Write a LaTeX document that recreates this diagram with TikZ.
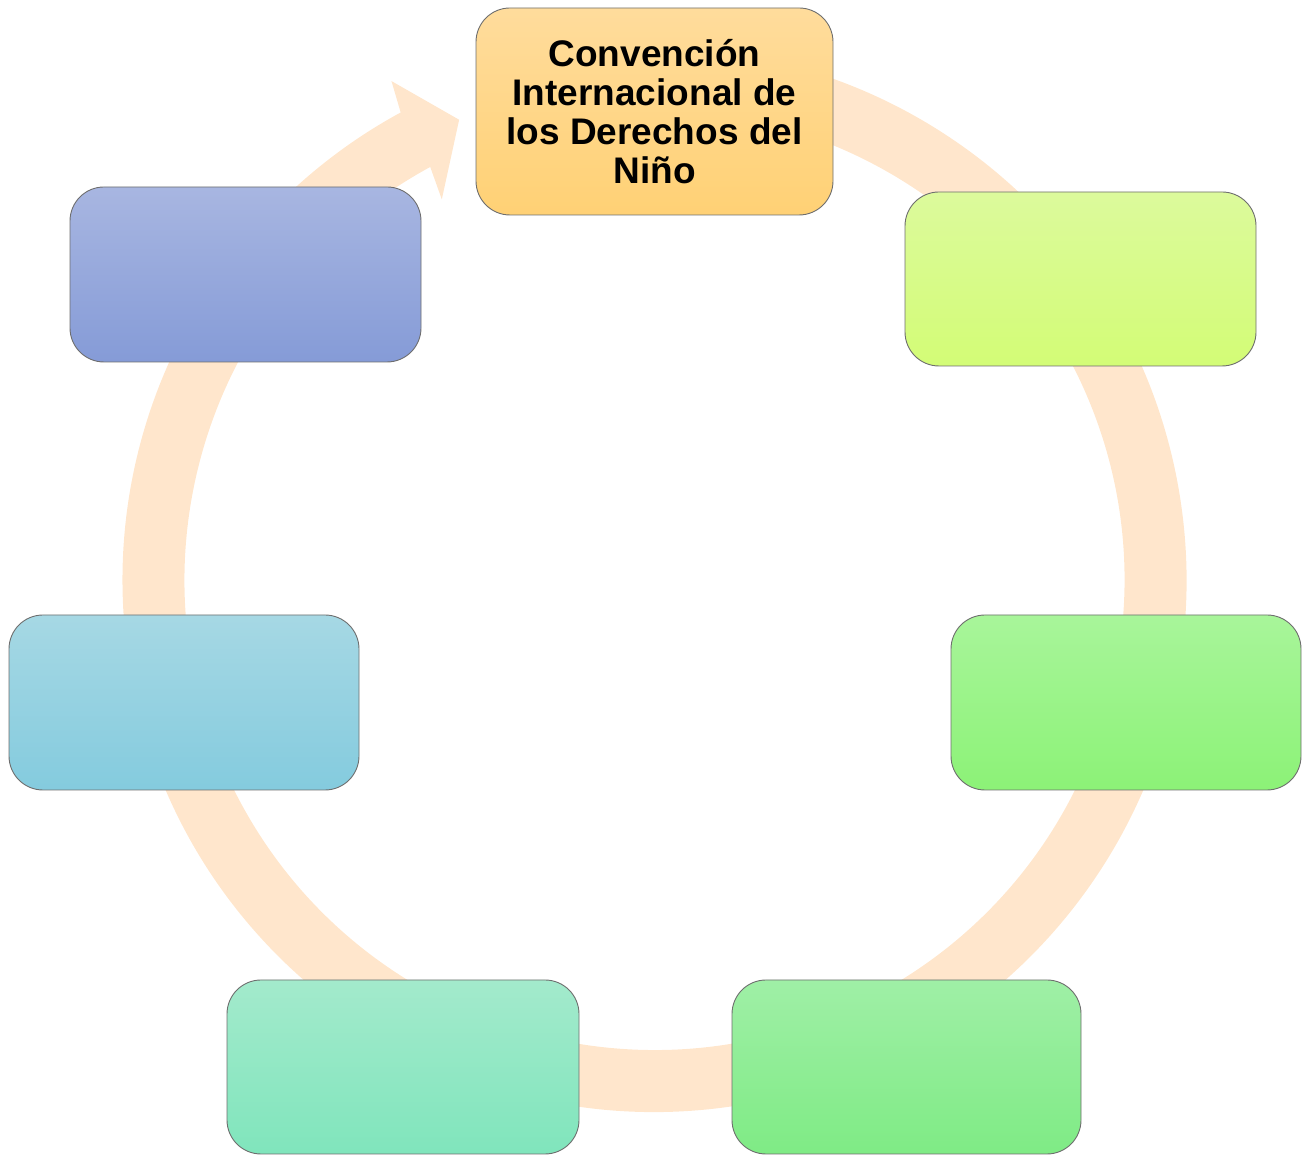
\documentclass[tikz,border=0pt]{standalone}
\usepackage{fontspec}
\setmainfont{Liberation Sans}
\usetikzlibrary{calc}
\definecolor{bandc}{HTML}{FFE6CC}
\definecolor{edgec}{HTML}{6E6E6E}
\definecolor{t1}{HTML}{FFDC9C}\definecolor{b1}{HTML}{FFD175}
\definecolor{t2}{HTML}{DCFA9C}\definecolor{b2}{HTML}{D3FC76}
\definecolor{t3}{HTML}{A8F59A}\definecolor{b3}{HTML}{8CF277}
\definecolor{t4}{HTML}{9FEFA6}\definecolor{b4}{HTML}{7FEB85}
\definecolor{t5}{HTML}{A3EACC}\definecolor{b5}{HTML}{80E5BC}
\definecolor{t6}{HTML}{A6D8E4}\definecolor{b6}{HTML}{84CBDE}
\definecolor{t7}{HTML}{A8B6E1}\definecolor{b7}{HTML}{859BD7}
\tikzset{
  cyclebox/.style={rectangle, rounded corners=34pt, draw=edgec, line width=0.9pt,
    inner sep=0pt, outer sep=0pt, align=center},
}
\begin{document}
\begin{tikzpicture}[x=1pt,y=1pt]
\useasboundingbox (0,0) rectangle (1311,1155);
% circular arrow band
\begin{scope}[shift={(654.5,575)}]
\fill[bandc] (100:532pt) arc[start angle=100, end angle=-241.5, radius=532pt]
  -- (117.8:564pt) -- (113:500pt) -- (119.2:436pt) -- (118.5:470pt)
  arc[start angle=-241.5, end angle=100, radius=470pt] -- cycle;
\end{scope}
% boxes
\node[cyclebox, top color=t1, bottom color=b1, minimum width=357pt, minimum height=207pt,
  font=\bfseries\fontsize{37}{39}\selectfont] (top) at (654.5,1043.5)
  {Convención\\Internacional de\\los Derechos del\\Niño};
\node[cyclebox, top color=t2, bottom color=b2, minimum width=351pt, minimum height=174pt] (tr) at (1080.5,876) {};
\node[cyclebox, top color=t3, bottom color=b3, minimum width=350pt, minimum height=175pt] (r) at (1126,452.5) {};
\node[cyclebox, top color=t4, bottom color=b4, minimum width=349pt, minimum height=174pt] (br) at (906.5,88) {};
\node[cyclebox, top color=t5, bottom color=b5, minimum width=352pt, minimum height=174pt] (bl) at (403,88) {};
\node[cyclebox, top color=t6, bottom color=b6, minimum width=350pt, minimum height=175pt] (l) at (184,452.5) {};
\node[cyclebox, top color=t7, bottom color=b7, minimum width=351pt, minimum height=175pt] (tl) at (245.5,880.5) {};
\end{tikzpicture}
\end{document}
